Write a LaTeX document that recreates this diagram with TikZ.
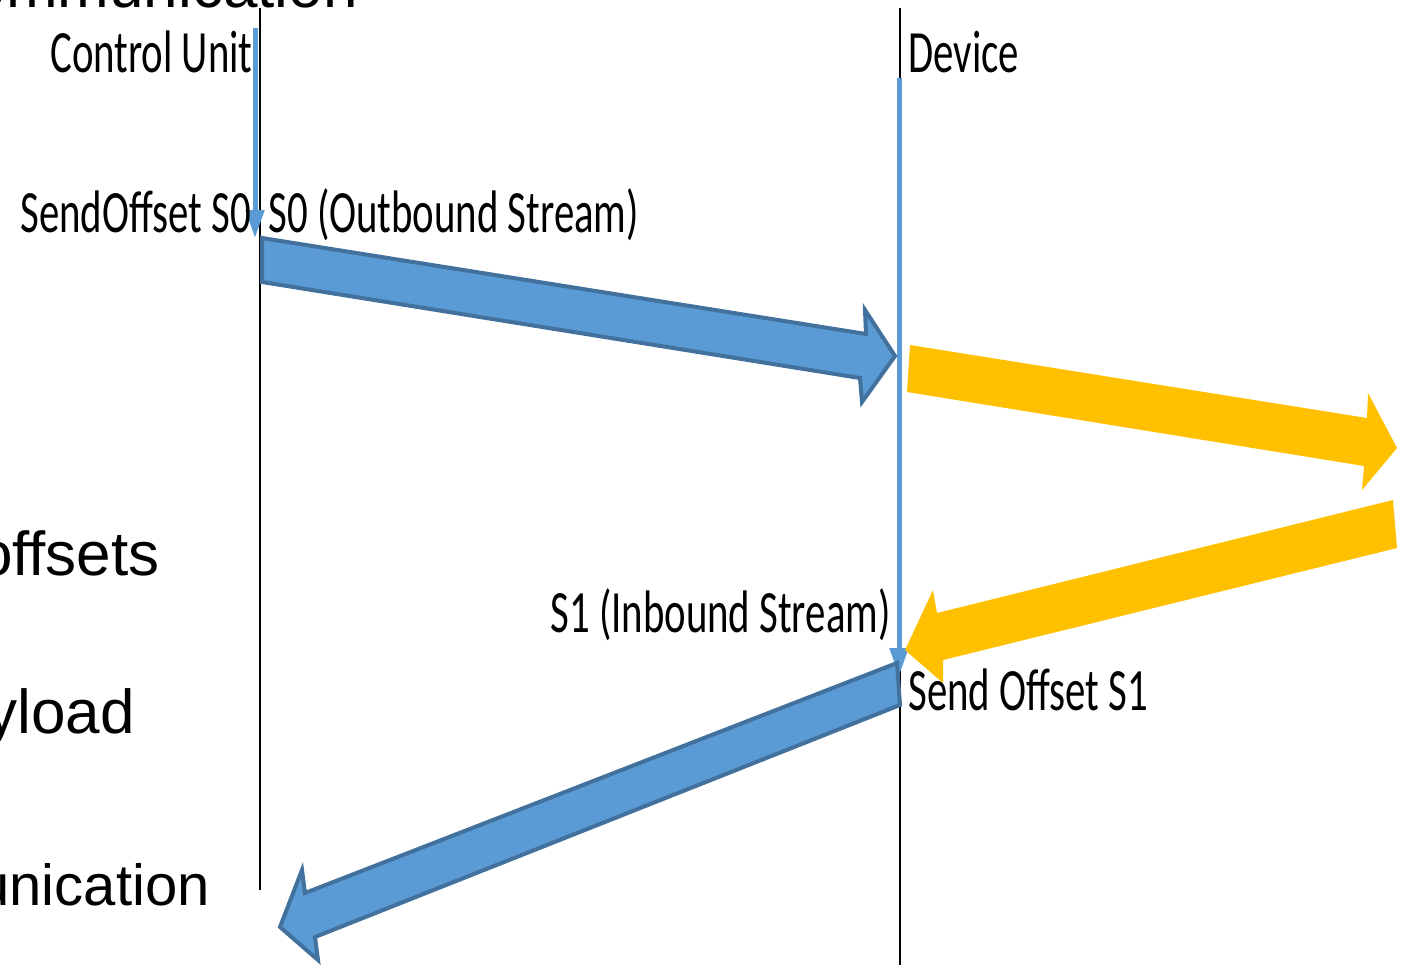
\documentclass[tikz,border=0pt]{standalone}
\usepackage{fontspec}
\setmainfont{Carlito}
\newfontfamily\arialf{Liberation Sans}
\usetikzlibrary{arrows.meta}
\definecolor{bluefill}{HTML}{5B9BD5}
\definecolor{blueedge}{HTML}{41719C}
\definecolor{gold}{HTML}{FFC000}
\newcommand{\sq}[1]{\scalebox{0.68}[1]{#1}}
\tikzset{
  lbl/.style={inner sep=0pt, font=\fontsize{30pt}{36pt}\selectfont},
  big/.style={inner sep=0pt, font=\arialf\fontsize{31pt}{37pt}\selectfont},
  lifeline/.style={line width=1pt, black},
  thinarrow/.style={line width=2.5pt, bluefill, -{Triangle[length=14pt,width=9pt]}},
  bluearrow/.style={fill=bluefill, draw=blueedge, line width=2pt, line join=miter},
  goldarrow/.style={fill=gold},
}
\begin{document}
\begin{tikzpicture}[x=0.5pt,y=-0.5pt]
\useasboundingbox (0,0) rectangle (1403,965);
\clip (0,0) rectangle (1403,965);
% cut-off texts
\node[big, anchor=base east] (t0) at (358,7) {Communication};
\node[big, anchor=base east] (t1) at (160,575) {offsets};
\node[big, anchor=base east] (t2) at (135,733) {yload};
\node[big, anchor=base east, font=\arialf\fontsize{29pt}{35pt}\selectfont] (t3) at (210,905) {unication};
% lifelines
\coordinate (cuTop) at (260,8);
\coordinate (cuBot) at (260,890);
\coordinate (dvTop) at (900,8);
\coordinate (dvBot) at (900,965);
\draw[lifeline] (cuTop) -- (cuBot);
\draw[lifeline] (dvTop) -- (dvBot);
% thin blue arrows
\coordinate (a1s) at (255,28);
\coordinate (a1e) at (255,238);
\coordinate (a2s) at (899,78);
\coordinate (a2e) at (899,676);
\draw[thinarrow] (a1s) -- (a1e);
\draw[thinarrow] (a2s) -- (a2e);
% block arrows
\draw[bluearrow] (262,238) -- (866,334) -- (865,310) -- (895,356) -- (862,402) -- (860,378) -- (262,282) -- cycle;
\fill[goldarrow] (910,345) -- (1367,418) -- (1368,393) -- (1397,448) -- (1362,490) -- (1364,466) -- (907,392) -- cycle;
\fill[goldarrow] (1393,500) -- (937,613) -- (933,590) -- (905,650) -- (943,683) -- (943,660) -- (1397,548) -- cycle;
\draw[bluearrow] (897,663) -- (305,893) -- (302,870) -- (280,927) -- (318,960) -- (315,937) -- (900,705) -- cycle;
% labels
\node[lbl, anchor=base west] (cu) at (50,72) {\sq{Control Unit}};
\node[lbl, anchor=base west] (dv) at (908,72) {\sq{Device}};
\node[lbl, anchor=base west] (so0) at (20,232) {\sq{SendOffset S0}};
\node[lbl, anchor=base west] (s0) at (268,232) {\sq{S0 (Outbound Stream)}};
\node[lbl, anchor=base east] (s1) at (891,632) {\sq{S1 (Inbound Stream)}};
\node[lbl, anchor=base west] (so1) at (908,710) {\sq{Send Offset S1}};
\end{tikzpicture}
\end{document}
